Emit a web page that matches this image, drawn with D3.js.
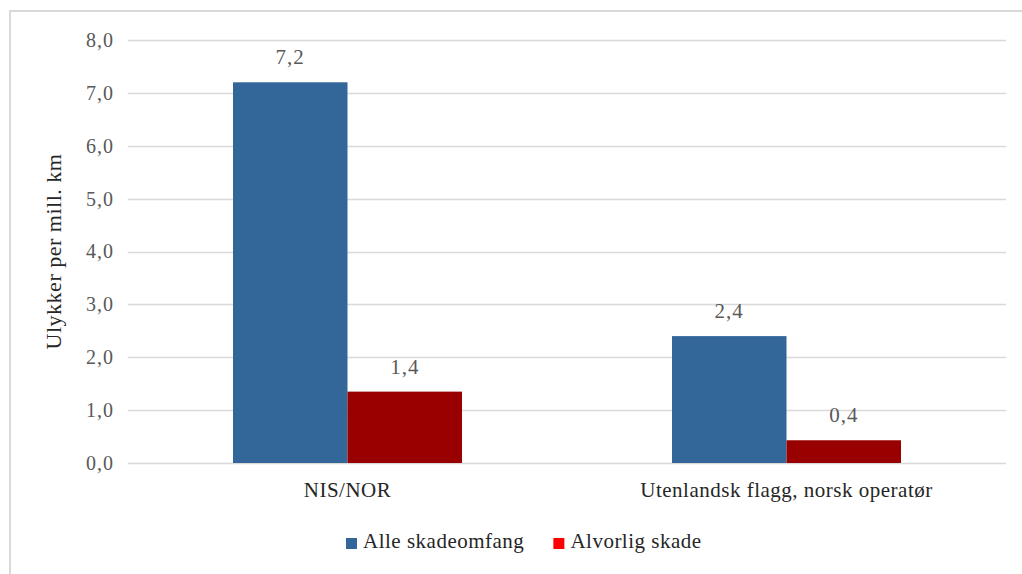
<!DOCTYPE html>
<html>
<head>
<meta charset="utf-8">
<script src="https://cdn.jsdelivr.net/npm/d3@7"></script>
<style>
  html, body { margin: 0; padding: 0; background: #fff; }
  svg { display: block; }
</style>
</head>
<body>
<svg id="chart" width="1022" height="574"></svg>
<script>
// Accidents per million km, by flag category
const categories = ["NIS/NOR", "Utenlandsk flagg, norsk operatør"];
const seriesNames = ["Alle skadeomfang", "Alvorlig skade"];
const alleSkadeomfang = [7.2, 2.4];
const alvorligSkade = [1.35, 0.43];
const yTicks = [0, 1, 2, 3, 4, 5, 6, 7, 8];
const barColors = ["#336699", "#990000"];
const legendColors = ["#336699", "#ff0000"];

const FONT = "Liberation Serif";
const values = [alleSkadeomfang, alvorligSkade];
const svg = d3.select("#chart");
const W = 1022, H = 574;
const m = { left: 128, right: 16, top: 40, bottom: 111 };
const plotW = W - m.left - m.right;
const plotH = H - m.top - m.bottom;

// Chart-area frame (top and left edges visible)
svg.append("rect").attr("x", 0).attr("y", 0).attr("width", W).attr("height", H).attr("fill", "#fff");
svg.append("path")
  .attr("d", `M10,${H} L10,11 L${W},11`)
  .attr("fill", "none").attr("stroke", "#d9d9d9").attr("stroke-width", 2);

const g = svg.append("g").attr("transform", `translate(${m.left},${m.top})`)
  .attr("font-family", FONT);

const y = d3.scaleLinear().domain([0, 8]).range([plotH, 0]);
const x0 = d3.scaleBand().domain(categories).range([0, plotW]).paddingInner(0).paddingOuter(0);
const x1 = d3.scaleBand().domain(seriesNames).range([0, x0.bandwidth()]).paddingInner(0).paddingOuter(0.917);

const fmt = v => d3.format(".1f")(v).replace(".", ",");

// Gridlines
g.append("g").selectAll("line").data(yTicks).join("line")
  .attr("x1", 0).attr("x2", plotW)
  .attr("y1", d => Math.round(y(d)) + 0.5).attr("y2", d => Math.round(y(d)) + 0.5)
  .attr("stroke", "#d9d9d9").attr("stroke-width", 1.3);

// Y axis labels
const yAxis = d3.axisLeft(y).tickValues(yTicks).tickFormat(fmt).tickSize(0).tickPadding(14);
const ya = g.append("g").call(yAxis).attr("font-family", FONT).attr("font-size", 20);
ya.select(".domain").remove();
ya.selectAll("text").attr("fill", "#595959")
  .attr("font-family", FONT).attr("font-size", 20).attr("letter-spacing", 1);

// Bars
const groups = g.append("g").selectAll("g").data(categories).join("g")
  .attr("transform", d => `translate(${x0(d)},0)`);
groups.selectAll("rect")
  .data((c, i) => seriesNames.map((s, k) => ({ s, k, v: values[k][i] })))
  .join("rect")
  .attr("x", d => x1(d.s))
  .attr("width", x1.bandwidth())
  .attr("y", d => y(d.v))
  .attr("height", d => y(0) - y(d.v))
  .attr("fill", d => barColors[d.k]);

// Data labels
groups.selectAll("text.val")
  .data((c, i) => seriesNames.map((s, k) => ({ s, k, v: values[k][i] })))
  .join("text").attr("class", "val")
  .attr("x", d => x1(d.s) + x1.bandwidth() / 2)
  .attr("y", d => y(d.v) - 18)
  .attr("text-anchor", "middle")
  .attr("fill", "#595959")
  .attr("font-family", FONT).attr("font-size", 21).attr("letter-spacing", 1)
  .text(d => fmt(d.v));

// Category labels
g.append("g").selectAll("text").data(categories).join("text")
  .attr("x", d => x0(d) + x0.bandwidth() / 2)
  .attr("y", 497 - m.top)
  .attr("text-anchor", "middle")
  .attr("fill", "#262626")
  .attr("font-family", FONT).attr("font-size", 21).attr("letter-spacing", 0.5)
  .text(d => d);

// Y axis title
svg.append("text")
  .attr("transform", `translate(61,${m.top + plotH / 2}) rotate(-90)`)
  .attr("text-anchor", "middle")
  .attr("fill", "#262626")
  .attr("font-family", FONT).attr("font-size", 22).attr("letter-spacing", 0.5)
  .text("Ulykker per mill. km");

// Legend
const legend = svg.append("g").attr("transform", "translate(346,548)").attr("font-family", FONT);
let lx = 0;
seriesNames.forEach((s, k) => {
  const it = legend.append("g").attr("transform", `translate(${lx},0)`);
  it.append("rect").attr("x", 0).attr("y", -10).attr("width", 11).attr("height", 11).attr("fill", legendColors[k]);
  const t = it.append("text").attr("x", 17).attr("y", 0).attr("fill", "#262626")
    .attr("font-family", FONT).attr("font-size", 21).attr("letter-spacing", 0.5).text(s);
  lx += 17 + t.node().getComputedTextLength() + 29;
});
</script>
</body>
</html>
